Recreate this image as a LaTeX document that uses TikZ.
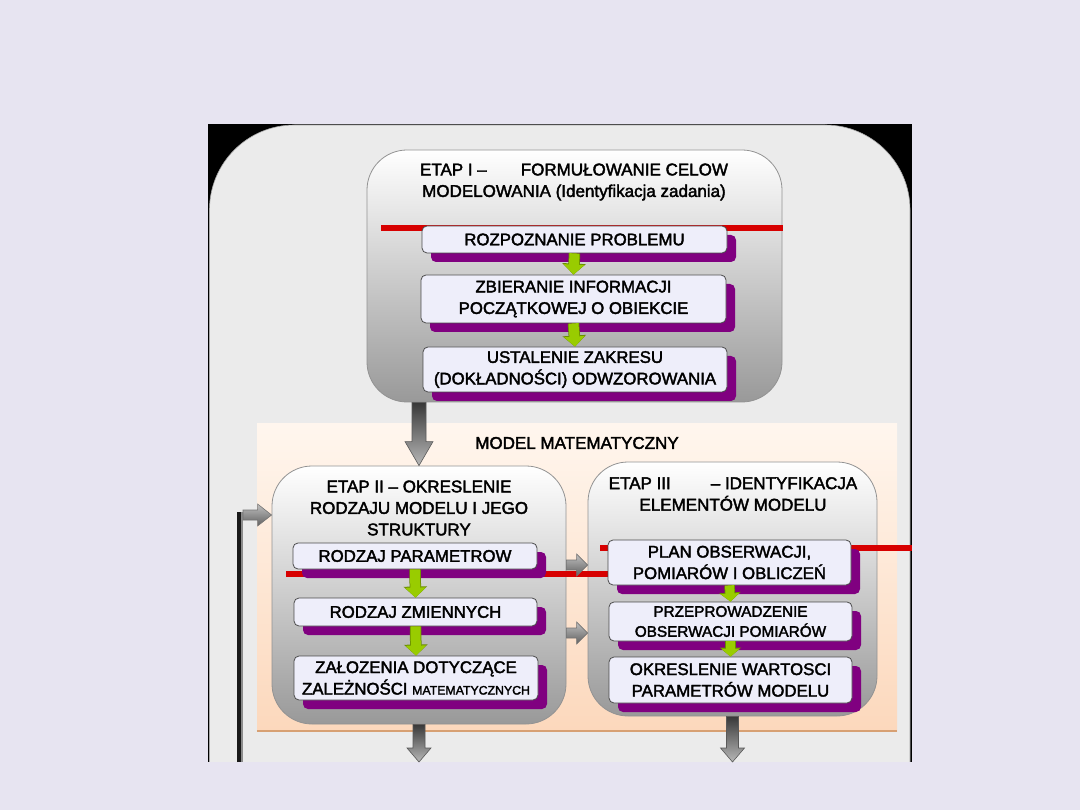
\documentclass[tikz,border=0pt]{standalone}
\usepackage{fontspec}
\setmainfont{Liberation Sans}
\newfontfamily\bxf[FakeBold=2.2]{Liberation Sans}
\usetikzlibrary{arrows.meta,shadows,calc}
\definecolor{bglav}{RGB}{231,228,241}
\definecolor{panelgray}{RGB}{235,235,235}
\definecolor{boxfill}{RGB}{238,238,250}
\definecolor{shpurple}{RGB}{128,0,128}
\definecolor{agreen}{RGB}{153,204,0}
\definecolor{agreendark}{RGB}{105,140,0}
\definecolor{redl}{RGB}{215,0,0}
\definecolor{peachtop}{RGB}{255,246,238}
\definecolor{peachbot}{RGB}{252,216,188}
\definecolor{peachline}{RGB}{215,160,115}
\tikzset{
  container/.style={draw=gray!85, line width=0.8pt, rounded corners=40pt,
    top color=white, middle color=gray!22, bottom color=gray!80, inner sep=0pt},
  subbox/.style={draw=gray!60!black, line width=0.8pt, fill=boxfill, rounded corners=5pt,
    inner sep=0pt, align=center, font=\bxf\fontsize{16.8}{21.5}\selectfont,
    drop shadow={shadow xshift=9pt, shadow yshift=-9pt, fill=shpurple, opacity=1}},
  titletext/.style={align=center, inner sep=0pt, font=\bxf\fontsize{17}{21.5}\selectfont},
  garrow/.style={line width=10pt, agreen, -{Triangle[width=20pt,length=10pt]},
    preaction={draw=agreendark, line width=11.5pt, -{Triangle[width=23pt,length=11pt]}}},
  garrowsmall/.style={line width=9pt, agreen, -{Triangle[width=18pt,length=8pt]},
    preaction={draw=agreendark, line width=10.5pt, -{Triangle[width=21pt,length=9pt]}}},
  vblockstyle/.style={draw=black!65, line width=0.6pt, top color=black!78, bottom color=black!28},
  hblockstyle/.style={draw=black!55, line width=0.6pt, top color=black!25, bottom color=black!62},
  redline/.style={line width=6pt, redl},
}
\newcommand\vblock[5]{%
  \path[vblockstyle] let \p1=(#1), \p2=(#2) in
    (\x1-#3,\y1) -- (\x1+#3,\y1) -- (\x1+#3,\y2+#5) -- (\x1+#4,\y2+#5) -- (\x1,\y2)
    -- (\x1-#4,\y2+#5) -- (\x1-#3,\y2+#5) -- cycle;}
\newcommand\hblock[5]{%
  \path[hblockstyle] let \p1=(#1), \p2=(#2) in
    (\x1,\y1-#3) -- (\x2-#5,\y1-#3) -- (\x2-#5,\y1-#4) -- (\x2,\y1)
    -- (\x2-#5,\y1+#4) -- (\x2-#5,\y1+#3) -- (\x1,\y1+#3) -- cycle;}
\begin{document}
\begin{tikzpicture}[x=1pt,y=-1pt]
\useasboundingbox (0,0) rectangle (1080,810);
% background
\fill[bglav] (0,0) rectangle (1080,810);
\fill[black] (208,124) rectangle (912,762);
\fill[panelgray, draw=gray!70, line width=0.6pt] (209.5,125) [rounded corners=85pt] rectangle (910,1000);
\fill[bglav] (0,762) rectangle (1080,812);
% model panel
\node[draw=none, top color=peachtop, bottom color=peachbot, minimum width=640, minimum height=307, inner sep=0pt] (mm) at (577,577.5) {};
\draw[peachline, line width=1.5pt] (mm.south west) -- (mm.south east);
\node[titletext] (mmt) at (577,443) {MODEL MATEMATYCZNY};
% feedback bar
\coordinate (fb) at (240,762);
\coordinate (fbt) at (240,512);
\draw[line width=6pt, black!90] (fb) -- (fbt);
\draw[line width=1.5pt, black!45] ($(fb)+(2,0)$) -- ($(fbt)+(2,0)$);
% containers
\node[container, minimum width=415, minimum height=252] (e1) at (574.5,276) {};
\node[container, minimum width=294, minimum height=258] (e2) at (419,595) {};
\node[container, minimum width=289, minimum height=254] (e3) at (732.5,589) {};
% titles
\node[titletext] (e1t) at (574,182) {ETAP I –\hspace{34pt}FORMUŁOWANIE CELOW\\MODELOWANIA (Identyfikacja zadania)};
\node[titletext] (e2t) at (419,508) {ETAP II – OKRESLENIE\\RODZAJU MODELU I JEGO\\STRUKTURY};
\node[titletext] (e3t) at (733,494) {ETAP III\hspace{40pt}– IDENTYFIKACJA\\ELEMENTÓW MODELU};
% red lines
\draw[redline] (381,228) -- (783,228);
\draw[redline] (286,574) -- (612,574);
\draw[redline] (600,548) -- (912,548);
% sub boxes
\node[subbox, minimum width=305, minimum height=27] (r1) at (574.5,239.5) {ROZPOZNANIE PROBLEMU};
\node[subbox, minimum width=305, minimum height=48] (r2) at (573.5,299) {ZBIERANIE INFORMACJI\\POCZĄTKOWEJ O OBIEKCIE};
\node[subbox, minimum width=304, minimum height=45] (r3) at (575,369.5) {USTALENIE ZAKRESU\\(DOKŁADNOŚCI) ODWZOROWANIA};
\node[subbox, minimum width=244, minimum height=26] (s1) at (415,556) {RODZAJ PARAMETROW};
\node[subbox, minimum width=243, minimum height=28] (s2) at (415.5,612) {RODZAJ ZMIENNYCH};
\node[subbox, minimum width=244, minimum height=44] (s3) at (416,678) {ZAŁOZENIA DOTYCZĄCE\\ZALEŻNOŚCI {\fontsize{12.3}{13}\selectfont MATEMATYCZNYCH}};
\node[subbox, minimum width=243, minimum height=45] (t1) at (729.5,562.5) {PLAN OBSERWACJI,\\POMIARÓW I OBLICZEŃ};
\node[subbox, minimum width=243, minimum height=39, font=\bxf\fontsize{15.3}{20}\selectfont] (t2) at (730.5,621.5) {PRZEPROWADZENIE\\OBSERWACJI POMIARÓW};
\node[subbox, minimum width=243, minimum height=46] (t3) at (730.5,680) {OKRESLENIE WARTOSCI\\PARAMETRÓW MODELU};
% green arrows
\draw[garrow] (r1.south) -- (r2.north);
\draw[garrow] (r2.south) -- (r3.north);
\draw[garrow] (s1.south) -- (s2.north);
\draw[garrow] (s2.south) -- (s3.north);
\draw[garrowsmall] (t1.south) -- (t2.north);
\draw[garrowsmall] (t2.south) -- (t3.north);
% gray arrows
\vblock{e1.south -| e2.north}{e2.north}{7pt}{14pt}{24pt}
\coordinate (b2) at (419,762);
\coordinate (b3) at (732.5,762);
\vblock{e2.south}{b2}{6pt}{12pt}{14pt}
\vblock{e3.south}{b3}{6pt}{12pt}{14pt}
\hblock{e2.east |- 0,565}{e3.west |- 0,565}{5pt}{11pt}{11pt}
\hblock{e2.east |- 0,633}{e3.west |- 0,633}{5pt}{11pt}{11pt}
\hblock{243,515}{e2.west |- 0,515}{5pt}{11pt}{14pt}
\end{tikzpicture}
\end{document}
